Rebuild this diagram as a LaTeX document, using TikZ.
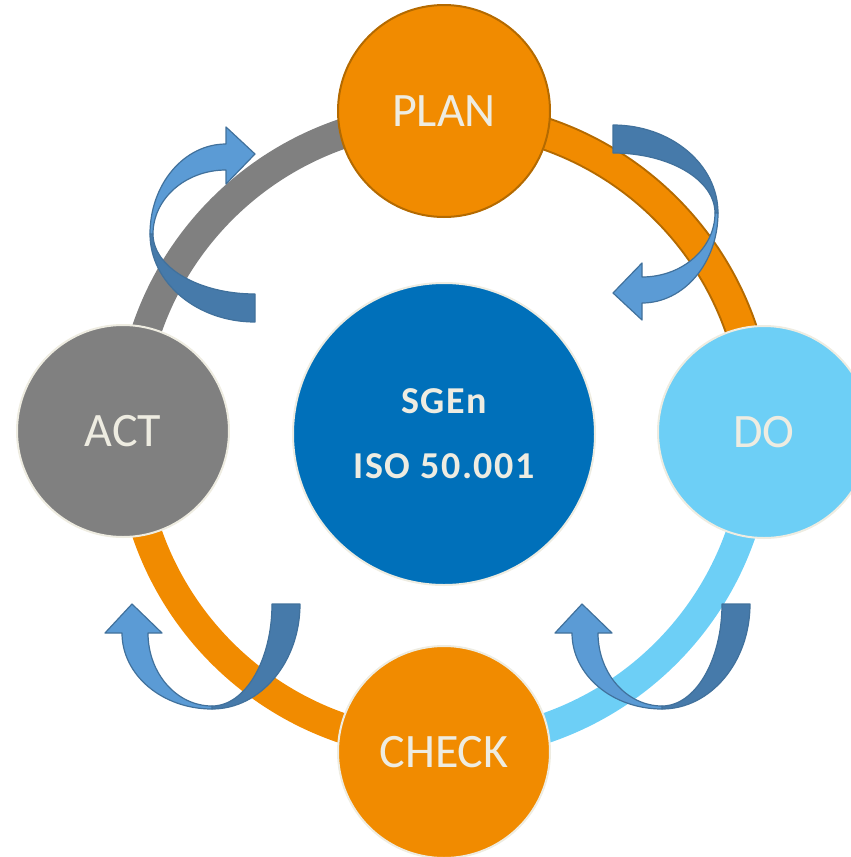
\documentclass[tikz,border=0pt]{standalone}
\usepackage{fontspec}
\setmainfont{Carlito}
\newfontfamily\ctrfont[LetterSpace=4]{Carlito}
\definecolor{pdcaorange}{HTML}{F18B00}
\definecolor{orangeline}{HTML}{B46A00}
\definecolor{dolight}{HTML}{6DCFF6}
\definecolor{actgray}{HTML}{808080}
\definecolor{isoblue}{HTML}{0070BA}
\definecolor{cream}{HTML}{EEECE1}
\definecolor{arrlight}{HTML}{5B9BD5}
\definecolor{arrdark}{HTML}{467AAA}
\definecolor{arrline}{HTML}{41719C}
\newcommand\cyclearrow{%
  \filldraw[arrowdark] (613,125) arc[start angle=-90,end angle=0,x radius=105,y radius=88]
    -- (715,213) arc[start angle=0,end angle=-90,x radius=102,y radius=60] -- cycle;
  \filldraw[arrowlight] (718,213) arc[start angle=0,end angle=90,x radius=76,y radius=90]
    -- (642,320) -- (613,293) -- (642,263) -- (642,277)
    arc[start angle=90,end angle=0,x radius=73,y radius=64] -- cycle;
}
\begin{document}
\begin{tikzpicture}[x=1pt,y=-1pt,
  ringband/.style={line width=30pt},
  arrowdark/.style={fill=arrdark, draw=arrline, line width=1.2pt, line join=round},
  arrowlight/.style={fill=arrlight, draw=arrline, line width=1.2pt, line join=round},
  stage/.style={circle, minimum size=212pt, inner sep=0pt, line width=2pt, draw=cream,
    text=cream, font=\fontsize{48}{58}\selectfont}]
\path[use as bounding box, clip] (0,0) rectangle (851,857);
\coordinate (O) at (444,431);
% ring
\draw[ringband, actgray] (O) ++(180:314) coordinate (r1) arc[start angle=180, end angle=270, radius=314];
\draw[line width=33pt, orangeline] (O) ++(270:314) coordinate (r2) arc[start angle=270, end angle=360, radius=314];
\draw[line width=29pt, pdcaorange] (O) ++(270:314) arc[start angle=270, end angle=360, radius=314];
\draw[ringband, dolight] (O) ++(0:314) coordinate (r3) arc[start angle=0, end angle=90, radius=314];
\draw[ringband, pdcaorange] (O) ++(90:314) coordinate (r4) arc[start angle=90, end angle=180, radius=314];
% curved arrows
\cyclearrow
\begin{scope}[shift={(868,447)}, xscale=-1, yscale=-1]
  \cyclearrow
\end{scope}
\begin{scope}[shift={(-313,479)}, rotate around={-90:(613,125)}]
  \cyclearrow
\end{scope}
\begin{scope}[shift={(137,479)}, rotate around={-90:(613,125)}]
  \cyclearrow
\end{scope}
% stages
\node[stage, fill=pdcaorange, draw=orangeline] (plan) at (444,111) {PLAN};
\node[stage, fill=dolight] (do) at (764,432) {DO};
\node[stage, fill=pdcaorange] (check) at (444,752) {CHECK};
\node[stage, fill=actgray] (act) at (123,431) {ACT};
\node[circle, minimum size=302pt, inner sep=0pt, fill=isoblue, draw=cream, line width=2pt,
  text=cream, align=center, font=\ctrfont\bfseries\fontsize{38}{65}\selectfont] (iso) at (444,434)
  {SGEn\\ISO 50.001};
\end{tikzpicture}
\end{document}
